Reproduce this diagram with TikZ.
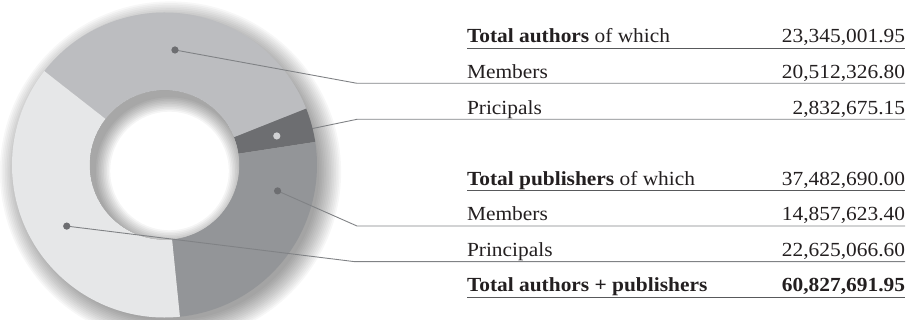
\documentclass[tikz,border=0pt]{standalone}
\usepackage{fontspec}
\setmainfont{Liberation Serif}[FakeStretch=1.07]
\definecolor{sgtop}{HTML}{BCBDC0}
\definecolor{sgdark}{HTML}{6D6E71}
\definecolor{sgmid}{HTML}{939598}
\definecolor{sglight}{HTML}{E6E7E8}
\definecolor{txt}{HTML}{231F20}
\definecolor{rulec}{HTML}{58595B}
\definecolor{leadc}{HTML}{808285}
\definecolor{dotc}{HTML}{6D6E71}
\definecolor{dotl}{HTML}{D1D2D4}
\begin{document}
\begin{tikzpicture}[x=1pt,y=-1pt,
  font=\fontsize{20}{24}\selectfont,
  every node/.style={inner sep=0pt, outer sep=0pt, text=txt},
  lbl/.style={anchor=base west},
  val/.style={anchor=base east},
  rulel/.style={draw=rulec, line width=1.2pt},
  leader/.style={draw=leadc, line width=0.9pt}]
\useasboundingbox (0,0) rectangle (913,320);
\def\Ro{152.5}
\def\Ri{74.7}
% coordinates and outer shadow
\begin{scope}[shift={(164.5,165)}, y=1pt]
  \coordinate (c0) at (0,0);
  \coordinate (d1) at (84.8:115.5);
  \coordinate (d2) at (14.5:116);
  \coordinate (d3) at (-12.9:116);
  \coordinate (d4) at (212:115.3);
  \foreach \k in {0,...,13}
    \fill[black, opacity=0.032] (6,-7) circle[radius={\Ro-4+\k*1.7}];
\end{scope}
% leader bends and ends
\coordinate (b1) at (357,83.3);   \coordinate (e1) at (905,83.3);
\coordinate (b2) at (357,119.3);  \coordinate (e2) at (905,119.3);
\coordinate (b3) at (357,226);    \coordinate (e3) at (905,226);
\coordinate (b4) at (355,261.7);  \coordinate (e4) at (905,261.7);
% leader under the dark wedge
\draw[leader] (d2) -- (b2) -- (e2);
% donut
\begin{scope}[shift={(164.5,165)}, y=1pt]
  \fill[sgtop] (142:\Ro) arc[start angle=142, end angle=21.7, radius=\Ro]
     -- (21.7:\Ri) arc[start angle=21.7, end angle=142, radius=\Ri] -- cycle;
  \fill[sgdark] (21.7:\Ro) arc[start angle=21.7, end angle=8.7, radius=\Ro]
     -- (8.7:\Ri) arc[start angle=8.7, end angle=21.7, radius=\Ri] -- cycle;
  \fill[sgmid] (8.7:\Ro) arc[start angle=8.7, end angle=-84.2, radius=\Ro]
     -- (-84.2:\Ri) arc[start angle=-84.2, end angle=8.7, radius=\Ri] -- cycle;
  \fill[sglight] (-84.2:\Ro) arc[start angle=-84.2, end angle=-218, radius=\Ro]
     -- (-218:\Ri) arc[start angle=-218, end angle=-84.2, radius=\Ri] -- cycle;
  \fill[white] (0,0) circle[radius=\Ri];
  \begin{scope}
    \clip (0,0) circle[radius=\Ri];
    \foreach \k in {0,...,9}
      \fill[black, opacity=0.038, even odd rule] (-200,-200) rectangle (200,200)
        (5,-6) circle[radius={\Ri-1-\k*1.6}];
  \end{scope}
\end{scope}
% other leaders
\draw[leader] (d1) -- (b1) -- (e1);
\draw[leader] (d3) -- (b3) -- (e3);
\draw[leader] (d4) -- (b4) -- (e4);
% dots
\fill[dotc] (d1) circle[radius=3.6];
\fill[dotl] (d2) circle[radius=3.6];
\fill[dotc] (d3) circle[radius=3.6];
\fill[dotc] (d4) circle[radius=3.6];
% table
\node[lbl] (t1) at (467,42.7) {\textbf{Total authors} of which};
\node[val] (v1) at (905,42.7) {23,345,001.95};
\node[lbl] (t2) at (467,78.8) {Members};
\node[val] (v2) at (905,78.8) {20,512,326.80};
\node[lbl] (t3) at (467,114.3) {Pricipals};
\node[val] (v3) at (905,114.3) {2,832,675.15};
\node[lbl] (t4) at (467,186) {\textbf{Total publishers} of which};
\node[val] (v4) at (905,186) {37,482,690.00};
\node[lbl] (t5) at (467,221) {Members};
\node[val] (v5) at (905,221) {14,857,623.40};
\node[lbl] (t6) at (467,256.7) {Principals};
\node[val] (v6) at (905,256.7) {22,625,066.60};
\node[lbl] (t7) at (467,291.7) {\textbf{Total authors + publishers}};
\node[val] (v7) at (905,291.7) {\textbf{60,827,691.95}};
\coordinate (r1a) at (467,48.3);  \coordinate (r1b) at (905,48.3);
\coordinate (r2a) at (467,190.7); \coordinate (r2b) at (905,190.7);
\coordinate (r3a) at (467,297.3); \coordinate (r3b) at (905,297.3);
\draw[rulel] (r1a) -- (r1b);
\draw[rulel] (r2a) -- (r2b);
\draw[rulel] (r3a) -- (r3b);
\end{tikzpicture}
\end{document}
